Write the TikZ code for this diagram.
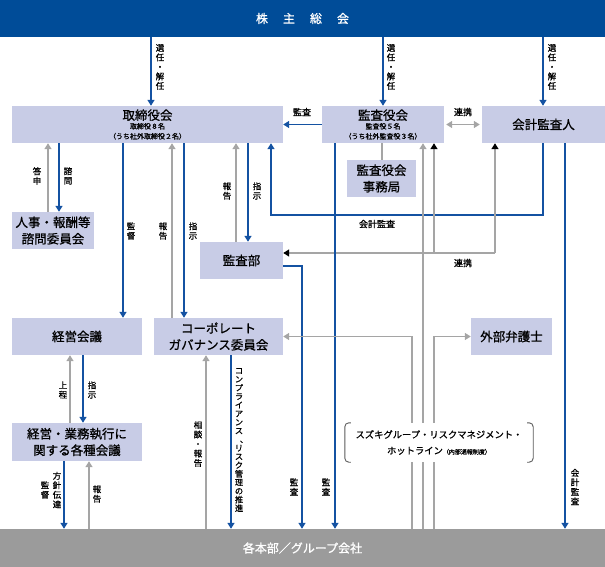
\documentclass[tikz,border=0pt]{standalone}
\usepackage{fontspec}
\setmainfont{Noto Sans CJK JP}[FakeBold=0.9]
\usetikzlibrary{arrows.meta,calc}
\definecolor{bannerblue}{RGB}{0,76,152}
\definecolor{lineblue}{RGB}{20,82,162}
\definecolor{boxfill}{RGB}{200,204,230}
\definecolor{lgray}{RGB}{165,165,165}
\definecolor{bgray}{RGB}{155,155,155}
\definecolor{brk}{RGB}{90,90,90}
\begin{document}
\begin{tikzpicture}[x=1pt,y=-1pt,
  box/.style={fill=boxfill, inner sep=0pt, align=center, minimum height=37pt, font=\fontsize{12.5}{16.5}\selectfont},
  bl/.style={draw=lineblue, line width=1.4pt, -{Triangle[width=7pt,length=6pt]}, fill=none},
  gl/.style={draw=lgray, line width=1.4pt, -{Triangle[width=7pt,length=6pt]}},
  kl/.style={draw=lgray, line width=1.4pt, -{Triangle[width=7pt,length=6pt,color=black]}},
  gplain/.style={draw=lgray, line width=1.4pt},
  lab/.style={inner sep=0pt, align=center, font=\fontsize{8.5}{9.5}\selectfont},
  hlab/.style={inner sep=0pt, font=\fontsize{9}{10}\selectfont},
  bracket/.style={draw=brk, line width=0.9pt, rounded corners=4pt},
]
\useasboundingbox (0,0) rectangle (605,567);

% lanes
\foreach \x in {37,48,59,64,70,83,89,123,151,172,184,206,231,236,248,271,302,335,382,383,412,423,434,495,543,565}
  \coordinate (X\x) at (\x,0);
\coordinate (Y215) at (0,215);
\coordinate (Y253) at (0,253);
\coordinate (Y266) at (0,266);

% banners
\node[fill=bannerblue, minimum width=605pt, minimum height=37pt, inner sep=0pt, text=white, font=\fontsize{12}{14}\selectfont] (top) at (302.5,18.5) {株\hspace{15pt}主\hspace{15pt}総\hspace{15pt}会};
\node[fill=bgray, minimum width=605pt, minimum height=38pt, inner sep=0pt, text=white, font=\fontsize{12}{14}\selectfont] (bot) at (302.5,548) {各本部／グループ会社};

% boxes
\node[box, minimum width=271pt, font=\fontsize{7}{10}\selectfont] (tori) at (147.5,124.5) {{\fontsize{12.5}{12.5}\selectfont 取締役会}\\[-1pt]取締役８名\\（うち社外取締役２名）};
\node[box, minimum width=122pt, font=\fontsize{7}{10}\selectfont] (kansa) at (383,124.5) {{\fontsize{12.5}{12.5}\selectfont 監査役会}\\[-1pt]監査役５名\\（うち社外監査役３名）};
\node[box, minimum width=123pt] (kaikei) at (543.5,124.5) {会計監査人};
\node[box, minimum width=69pt] (jimu) at (381.5,178.5) {監査役会\\事務局};
\node[box, minimum width=82pt] (jinji) at (53,230.5) {人事・報酬等\\諮問委員会};
\node[box, minimum width=83pt] (kansabu) at (241.5,260.5) {監査部};
\node[box, minimum width=130pt] (keiei) at (77,336.5) {経営会議};
\node[box, minimum width=129pt] (cg) at (218.5,336.5) {コーポレート\\ガバナンス委員会};
\node[box, minimum width=81pt] (bengo) at (511.5,336.5) {外部弁護士};
\node[box, minimum width=130pt, minimum height=38pt] (kaigi) at (77,442) {経営・業務執行に\\関する各種会議};

% connectors from shareholders meeting
\draw[bl] (top.south -| X151) -- (tori.north -| X151);
\draw[bl] (top.south -| X383) -- (kansa.north -| X383);
\draw[bl] (top.south -| X543) -- (kaikei.north -| X543);

% board level
\draw[bl] (kansa.west) -- (tori.east);
\draw[gl, {Triangle[width=7pt,length=6pt]}-{Triangle[width=7pt,length=6pt]}] ([xshift=2pt]kansa.east) -- ([xshift=-2pt]kaikei.west);
\draw[gplain] (kansa.south -| X382) -- (jimu.north -| X382);

\draw[bl] (tori.south -| X59) -- (jinji.north -| X59);
\draw[gl] (jinji.north -| X48) -- (tori.south -| X48);
\draw[bl] (tori.south -| X123) -- (keiei.north -| X123);
\draw[gl] (cg.north -| X172) -- (tori.south -| X172);
\draw[bl] (tori.south -| X184) -- (cg.north -| X184);
\draw[gl] (kansabu.north -| X236) -- (tori.south -| X236);
\draw[bl] (tori.south -| X248) -- (kansabu.north -| X248);

% accounting audit
\draw[bl] (kaikei.south -| X543) |- (X271 |- Y215) -- (tori.south -| X271);

% cooperation network
\draw[kl] (X434 |- Y253) -- (kansa.south -| X434);
\draw[kl] (X495 |- Y253) -- (kaikei.south -| X495);
\draw[kl] (X495 |- Y253) -- (kansabu.east |- Y253);

% audits down to group companies
\draw[bl] (kansabu.east |- Y266) -| (bot.north -| X302);
\draw[bl] (kansa.south -| X335) -- (bot.north -| X335);
\draw[bl] (kaikei.south -| X565) -- (bot.north -| X565);

% hotline lines
\draw[gl] (bot.north -| X423) -- (kansa.south -| X423);
\draw[gl] (bot.north -| X412) |- (cg.east);
\draw[gl] (bot.north -| X434) |- (bengo.west);

% management
\draw[bl] (keiei.south -| X83) -- (kaigi.north -| X83);
\draw[gl] (kaigi.north -| X70) -- (keiei.south -| X70);
\draw[bl] (kaigi.south -| X64) -- (bot.north -| X64);
\draw[gl] (bot.north -| X89) -- (kaigi.south -| X89);
\draw[gl] (bot.north -| X206) -- (cg.south -| X206);
\draw[bl] (cg.south -| X231) -- (bot.north -| X231);

% hotline box
\node[fill=white, minimum width=188pt, minimum height=39pt, inner sep=0pt, align=center, font=\fontsize{9.3}{16}\selectfont] (hot) at (439,442.5) {スズキグループ・リスクマネジメント・\\ホットライン{\fontsize{6}{7}\selectfont（内部通報制度）}};
\draw[bracket] ([xshift=6pt]hot.north west) -- (hot.north west) -- (hot.south west) -- ([xshift=6pt]hot.south west);
\draw[bracket] ([xshift=-6pt]hot.north east) -- (hot.north east) -- (hot.south east) -- ([xshift=-6pt]hot.south east);

% labels
\node[lab] (s1) at (160,67) {選\\任\\・\\解\\任};
\node[lab] (s2) at (391,67) {選\\任\\・\\解\\任};
\node[lab] (s3) at (552,67) {選\\任\\・\\解\\任};
\node[hlab] (k1) at (302,112) {監査};
\node[hlab] (r1) at (463,112) {連携};
\node[lab] (shimon) at (68,176) {諮\\問};
\node[lab] (toushin) at (37,176) {答\\申};
\node[lab] (kant1) at (131,231) {監\\督};
\node[lab] (hou1) at (163,231) {報\\告};
\node[lab] (shi1) at (193,231) {指\\示};
\node[lab] (hou2) at (227,191) {報\\告};
\node[lab] (shi2) at (257,191) {指\\示};
\node[hlab] (kk) at (377,224) {会計監査};
\node[hlab] (r2) at (463,263) {連携};
\node[lab] (joutei) at (63,390) {上\\程};
\node[lab] (shi3) at (92,390) {指\\示};
\node[lab] (houshin) at (57,490) {方\\針\\伝\\達};
\node[lab] (kant2) at (45,490) {監\\督};
\node[lab] (hou3) at (97,494) {報\\告};
\node[lab] (soudan) at (198,444) {相\\談\\・\\報\\告};
\node[lab, font=\fontsize{8.2}{8.6}\selectfont] (comp) at (239,440) {コ\\ン\\プ\\ラ\\イ\\ア\\ン\\ス\\\hspace*{10pt}、\\リ\\ス\\ク\\管\\理\\の\\推\\進};
\node[lab] (k2) at (294,487) {監\\査};
\node[lab] (k3) at (326,487) {監\\査};
\node[lab] (k4) at (575,487) {会\\計\\監\\査};
\end{tikzpicture}
\end{document}
